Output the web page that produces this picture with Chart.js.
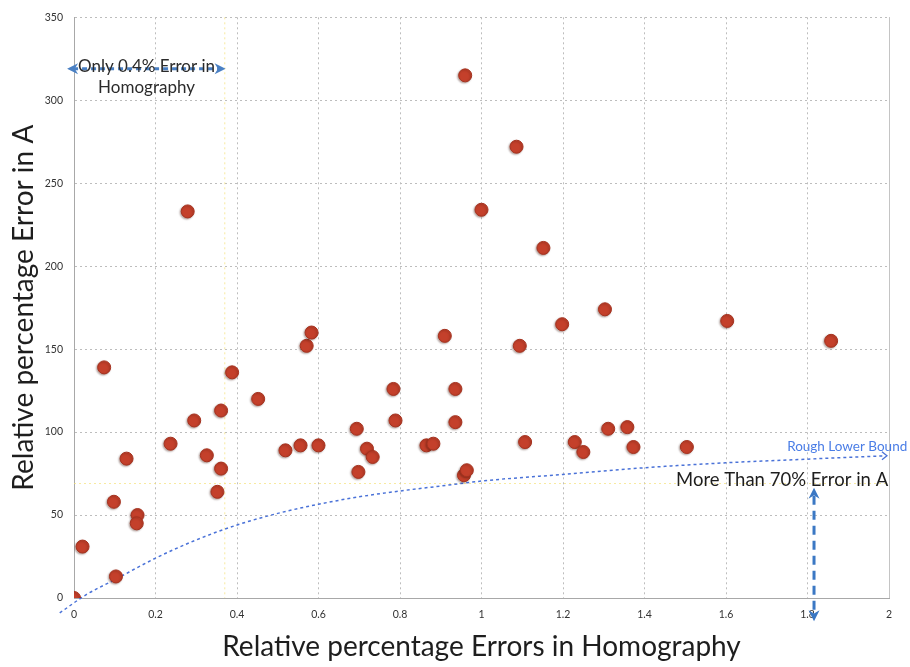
<!DOCTYPE html>
<html>
<head>
<meta charset="utf-8">
<script src="https://cdn.jsdelivr.net/npm/chart.js@4/dist/chart.umd.min.js"></script>
<style>
  html, body { margin: 0; padding: 0; background: #fff; }
  #grafico { display: block; }
</style>
</head>
<body>
<canvas id="grafico" width="910" height="667"></canvas>
<script>
// errores medidos: homografía (x) frente a A (y), en porcentaje relativo
const errHomography = [0, 0.021, 0.074, 0.098, 0.103, 0.129, 0.156, 0.154, 0.237, 0.279,
  0.295, 0.326, 0.352, 0.361, 0.361, 0.388, 0.452, 0.519, 0.556, 0.571,
  0.583, 0.600, 0.694, 0.698, 0.719, 0.733, 0.784, 0.789, 0.865, 0.882,
  0.910, 0.936, 0.936, 0.957, 0.960, 0.964, 1.000, 1.086, 1.094, 1.107,
  1.152, 1.198, 1.229, 1.250, 1.303, 1.311, 1.358, 1.373, 1.504, 1.603, 1.858];
const errA = [0, 31, 139, 58, 13, 84, 50, 45, 93, 233,
  107, 86, 64, 78, 113, 136, 120, 89, 92, 152,
  160, 92, 102, 76, 90, 85, 126, 107, 92, 93,
  158, 126, 106, 74, 315, 77, 234, 272, 152, 94,
  211, 165, 94, 88, 174, 102, 103, 91, 91, 167, 155];

// cota inferior aproximada (trazada a mano)
const boundX = [-0.035, 0.03, 0.1, 0.2, 0.3, 0.4, 0.5, 0.6, 0.7, 0.8, 0.9, 1.0, 1.2, 1.4, 1.6, 1.8, 1.99];
const boundY = [-9, 2, 11, 24, 35, 44, 51, 56.5, 61, 64.5, 67.5, 70.5, 74.5, 78.5, 81.5, 83.7, 85.7];

const xTickLabels = ['0', '0.2', '0.4', '0.6', '0.8', '1', '1.2', '1.4', '1.6', '1.8', '2'];
const yTickLabels = ['0', '50', '100', '150', '200', '250', '300', '350'];

const puntos = errHomography.map((v, i) => ({ x: v, y: errA[i] }));
const cota = boundX.map((v, i) => ({ x: v, y: boundY[i] }));

const fuente = 'Lato, "Open Sans", sans-serif';

function punta(ctx, x, y, ang, largo, ancho) {
  ctx.save();
  ctx.translate(x, y);
  ctx.rotate(ang);
  ctx.beginPath();
  ctx.moveTo(0, 0);
  ctx.lineTo(-largo, -ancho / 2);
  ctx.lineTo(-largo * 0.7, 0);
  ctx.lineTo(-largo, ancho / 2);
  ctx.closePath();
  ctx.fill();
  ctx.restore();
}

// sombra suave bajo los puntos
const sombra = {
  id: 'sombra',
  beforeDatasetDraw(chart, args) {
    if (args.index !== 1) return;
    const ctx = chart.ctx;
    ctx.save();
    ctx.shadowColor = 'rgba(60,20,10,0.35)';
    ctx.shadowBlur = 2;
    ctx.shadowOffsetX = -1;
    ctx.shadowOffsetY = 1;
  },
  afterDatasetDraw(chart, args) {
    if (args.index === 1) chart.ctx.restore();
  }
};

// guías amarillas, borde derecho, flechas y textos
const notas = {
  id: 'notas',
  beforeDatasetsDraw(chart) {
    const { ctx, chartArea: a, scales: { x, y } } = chart;
    ctx.save();
    ctx.strokeStyle = 'rgba(245,225,120,0.7)';
    ctx.lineWidth = 1;
    ctx.setLineDash([2, 3]);
    ctx.beginPath();
    ctx.moveTo(x.getPixelForValue(0.37), a.top);
    ctx.lineTo(x.getPixelForValue(0.37), a.bottom);
    ctx.moveTo(a.left, y.getPixelForValue(69));
    ctx.lineTo(a.right, y.getPixelForValue(69));
    ctx.stroke();
    ctx.setLineDash([]);
    ctx.strokeStyle = '#c4c4c4';
    ctx.beginPath();
    ctx.moveTo(a.right + 0.5, a.top);
    ctx.lineTo(a.right + 0.5, a.bottom);
    ctx.stroke();
    ctx.restore();
  },
  afterDatasetsDraw(chart) {
    const { ctx, scales: { x, y } } = chart;
    ctx.save();

    // flecha doble horizontal arriba a la izquierda
    const y1 = y.getPixelForValue(319);
    const xa = x.getPixelForValue(-0.017), xb = x.getPixelForValue(0.372);
    ctx.strokeStyle = '#4a80c4';
    ctx.fillStyle = '#4a80c4';
    ctx.lineWidth = 3;
    ctx.setLineDash([5, 4]);
    ctx.beginPath();
    ctx.moveTo(xa + 6, y1);
    ctx.lineTo(xb - 6, y1);
    ctx.stroke();
    ctx.setLineDash([]);
    punta(ctx, xa, y1, Math.PI, 11, 11);
    punta(ctx, xb, y1, 0, 11, 11);

    ctx.fillStyle = '#2b2b2b';
    ctx.font = '17px ' + fuente;
    ctx.textAlign = 'center';
    ctx.textBaseline = 'middle';
    const xc = x.getPixelForValue(0.178);
    ctx.fillText('Only 0.4% Error in', xc, y.getPixelForValue(320.5));
    ctx.fillText('Homography', xc, y.getPixelForValue(307.5));

    // flecha doble vertical a la derecha
    const xv = x.getPixelForValue(1.816);
    const ya = y.getPixelForValue(66.5), yb = y.getPixelForValue(-14);
    ctx.strokeStyle = '#3b78c4';
    ctx.fillStyle = '#3b78c4';
    ctx.lineWidth = 3;
    ctx.setLineDash([9, 6]);
    ctx.beginPath();
    ctx.moveTo(xv, ya + 8);
    ctx.lineTo(xv, yb - 8);
    ctx.stroke();
    ctx.setLineDash([]);
    punta(ctx, xv, ya, -Math.PI / 2, 11, 11);
    punta(ctx, xv, yb, Math.PI / 2, 11, 11);

    // punta de la cota inferior
    const xr = x.getPixelForValue(1.995), yr = y.getPixelForValue(85.8);
    ctx.strokeStyle = '#4a72d8';
    ctx.lineWidth = 1.3;
    ctx.beginPath();
    ctx.moveTo(xr - 5, yr - 4);
    ctx.lineTo(xr, yr);
    ctx.lineTo(xr - 5, yr + 4);
    ctx.stroke();

    ctx.fillStyle = '#4a7de6';
    ctx.font = '13.5px ' + fuente;
    ctx.textAlign = 'left';
    ctx.fillText('Rough Lower Bound', x.getPixelForValue(1.75), y.getPixelForValue(91));

    ctx.fillStyle = '#1e1e1e';
    ctx.font = '18.5px ' + fuente;
    ctx.textAlign = 'right';
    ctx.fillText('More Than 70% Error in A', x.getPixelForValue(1.998), y.getPixelForValue(71));

    ctx.restore();
  }
};

const ctx = document.getElementById('grafico').getContext('2d');
const grafico = new Chart(ctx, {
  type: 'scatter',
  data: {
    datasets: [
      {
        label: 'Rough Lower Bound',
        data: cota,
        showLine: true,
        cubicInterpolationMode: 'monotone',
        borderColor: '#4a72d8',
        borderWidth: 1.5,
        borderDash: [3, 3],
        pointRadius: 0,
        clip: false,
        order: 2
      },
      {
        label: 'Errores',
        data: puntos,
        pointRadius: 6.5,
        pointHoverRadius: 6.5,
        backgroundColor: '#c4402b',
        borderColor: '#a5321f',
        borderWidth: 1,
        order: 1
      }
    ]
  },
  options: {
    responsive: false,
    devicePixelRatio: 1,
    animation: false,
    layout: { padding: { top: 14, right: 21, bottom: 0, left: 0 } },
    plugins: {
      legend: { display: false },
      tooltip: { enabled: false }
    },
    scales: {
      x: {
        type: 'linear',
        min: 0,
        max: 2,
        afterFit: (s) => { s.height = 69; },
        grid: { color: '#bdbdbd', drawTicks: false },
        border: { display: true, color: '#a8a8a8', dash: [2, 3] },
        ticks: {
          stepSize: 0.2,
          padding: 10,
          color: '#333',
          font: { family: fuente, size: 10.5 },
          callback: (v, i) => xTickLabels[i]
        },
        title: {
          display: true,
          text: 'Relative percentage Errors in Homography',
          color: '#1e1e1e',
          font: { family: fuente, size: 28 },
          padding: { top: 0, bottom: 3 }
        }
      },
      y: {
        type: 'linear',
        min: 0,
        max: 350,
        afterFit: (s) => { s.width = 74; },
        grid: { color: '#bdbdbd', drawTicks: false },
        border: { display: true, color: '#a8a8a8', dash: [2, 3] },
        ticks: {
          stepSize: 50,
          padding: 11,
          color: '#333',
          font: { family: fuente, size: 10.5 },
          callback: (v, i) => yTickLabels[i]
        },
        title: {
          display: true,
          text: 'Relative percentage Error in A',
          color: '#1e1e1e',
          font: { family: fuente, size: 28 },
          padding: { top: 7, bottom: 0 }
        }
      }
    }
  },
  plugins: [sombra, notas]
});
</script>
</body>
</html>
